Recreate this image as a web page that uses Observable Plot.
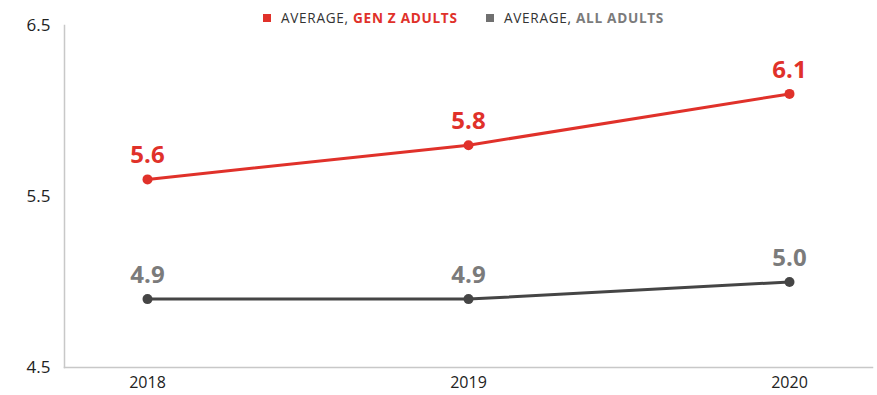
<!DOCTYPE html>
<html>
<head>
<meta charset="utf-8">
<script src="https://cdn.jsdelivr.net/npm/d3@7"></script>
<script src="https://cdn.jsdelivr.net/npm/@observablehq/plot@0.6"></script>
<style>
  body { margin: 0; background: #fff; font-family: "Open Sans", sans-serif; }
  #wrap { position: relative; width: 877px; height: 395px; }
  .legend { position: absolute; top: 8px; font-size: 13.6px; letter-spacing: 0.7px; color: #333; white-space: nowrap; display: flex; align-items: center; }
  .legend .sw { display: inline-block; width: 8px; height: 8px; margin-right: 10px; }
  .legend b { font-weight: 700; }
</style>
</head>
<body>
<div id="wrap"></div>
<script>
const years = ["2018", "2019", "2020"];
const genZ = [5.6, 5.8, 6.1];
const allAdults = [4.9, 4.9, 5.0];
const yTicks = [4.5, 5.5, 6.5];
const seriesNames = ["GEN Z ADULTS", "ALL ADULTS"];
const lineColors = ["#e0312a", "#454545"];
const labelColors = ["#e0312a", "#7b7b7b"];

const rows = [];
years.forEach((y, i) => {
  rows.push({year: y, value: genZ[i], series: seriesNames[0]});
  rows.push({year: y, value: allAdults[i], series: seriesNames[1]});
});

const chart = Plot.plot({
  width: 877,
  height: 395,
  marginLeft: 64,
  marginRight: 5,
  marginTop: 25,
  marginBottom: 28,
  style: {fontFamily: "Open Sans, sans-serif", background: "#fff"},
  x: {type: "point", domain: years, padding: 0.258},
  y: {domain: [4.5, 6.5]},
  color: {domain: seriesNames, range: lineColors},
  marks: [
    Plot.frame({anchor: "left", stroke: "#c8c8c8", strokeWidth: 1.5}),
    Plot.frame({anchor: "bottom", stroke: "#c8c8c8", strokeWidth: 1.5}),
    Plot.axisY({ticks: yTicks, tickSize: 0, tickPadding: 14, fontSize: 17, fill: "#222", tickFormat: d => d.toFixed(1), label: null}),
    Plot.axisX({tickSize: 0, tickPadding: 9, fontSize: 16, fill: "#222", label: null}),
    Plot.line(rows, {x: "year", y: "value", z: "series", stroke: "series", strokeWidth: 3}),
    Plot.dot(rows, {x: "year", y: "value", fill: "series", r: 5}),
    Plot.text(rows, {x: "year", y: "value", text: d => d.value.toFixed(1), dy: -24,
      fill: d => labelColors[seriesNames.indexOf(d.series)], fontSize: 24, fontWeight: "bold"})
  ]
});
const wrap = document.getElementById("wrap");
wrap.appendChild(chart);

function legendItem(left, swatch, name, nameColor) {
  const div = document.createElement("div");
  div.className = "legend";
  div.style.left = left + "px";
  div.innerHTML = `<span class="sw" style="background:${swatch}"></span>AVERAGE,&nbsp;<b style="color:${nameColor}">${name}</b>`;
  wrap.appendChild(div);
}
legendItem(263, lineColors[0], seriesNames[0], labelColors[0]);
legendItem(486, "#707070", seriesNames[1], labelColors[1]);
</script>
</body>
</html>
